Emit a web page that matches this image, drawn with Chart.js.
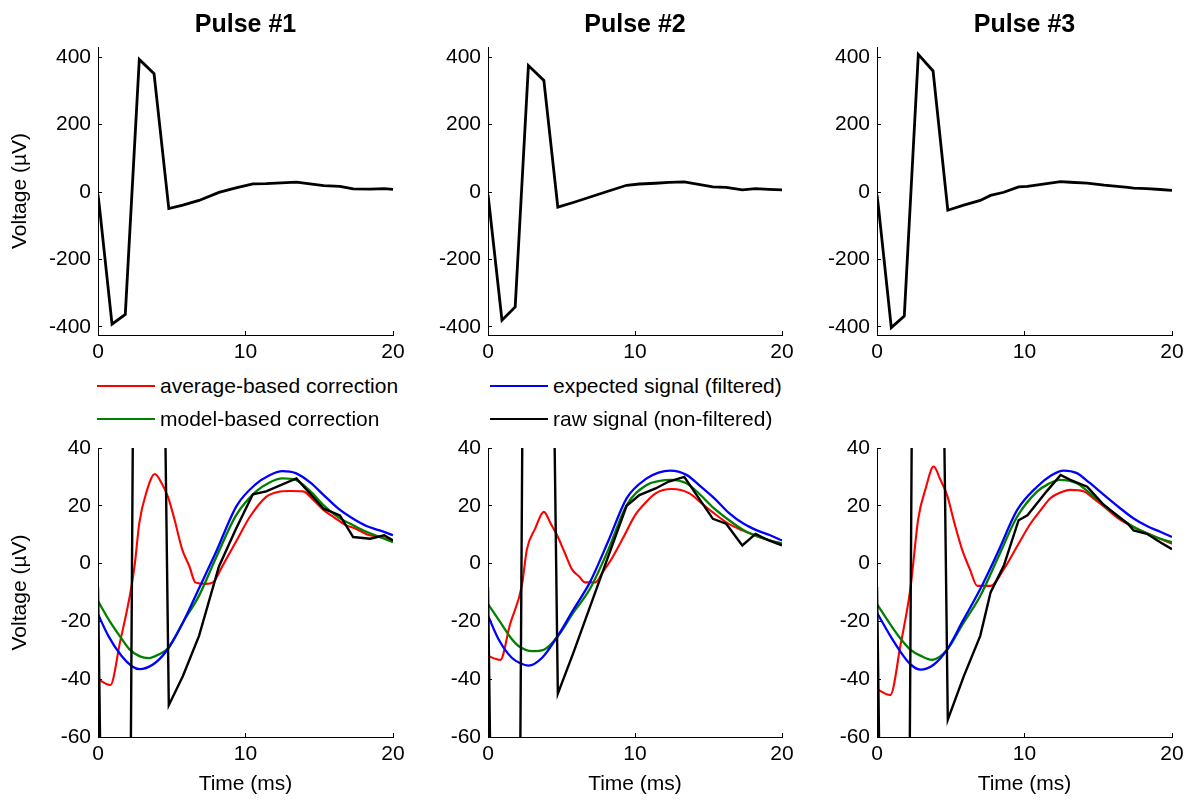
<!DOCTYPE html>
<html><head><meta charset="utf-8">
<script src="https://cdn.jsdelivr.net/npm/chart.js@4.4.1/dist/chart.umd.min.js"></script>
<style>
html,body{margin:0;padding:0;background:#fff;width:1191px;height:805px;overflow:hidden;}
body{position:relative;font-family:'Liberation Sans',Arial,Helvetica,sans-serif;color:#000;}
canvas{position:absolute;}
.ttl{position:absolute;font-weight:bold;font-size:25px;line-height:30px;text-align:center;white-space:nowrap;}
.leg{position:absolute;font-size:21px;line-height:24px;white-space:nowrap;display:flex;align-items:center;}
.leg .ln{display:inline-block;width:58px;height:2px;margin-right:5px;}
</style></head><body>
<script>
// ---------------- DATA ----------------
const pulseTitles = ['Pulse #1', 'Pulse #2', 'Pulse #3'];
const seriesNames = ['average-based correction', 'model-based correction', 'expected signal (filtered)', 'raw signal (non-filtered)'];
const xTicks = [0, 10, 20];
const topYTicks = [-400, -200, 0, 200, 400];
const bottomYTicks = [-60, -40, -20, 0, 20, 40];

// raw signal (non-filtered), [time ms, µV]
const raw1 = [[0,-8],[0.1,-45],[0.95,-392],[1.85,-363],[2.8,393],[3.8,351],[4.8,-49],[5.75,-39],[6.85,-25],[8.2,-1],[9.35,12],[10.5,24],[11.4,25],[13.45,29.5],[15.3,19],[16.4,16.7],[17.3,9.2],[18.45,8.6],[19.4,9.8],[20,8]];
const raw2 = [[0,-8],[0.1,-46],[0.95,-380],[1.85,-341],[2.75,375],[3.8,331],[4.75,-45],[5.8,-31],[6.9,-15.5],[8,0],[9.43,20],[10.3,23.7],[11.4,26],[12.3,28.4],[13.35,30],[15.3,15.5],[16.2,13.8],[17.3,6.3],[18.2,10.3],[19.1,8],[20,6.3]];
const raw3 = [[0,-8],[0.1,-45],[0.97,-402],[1.85,-368],[2.8,408],[3.8,359],[4.8,-54],[5.88,-39],[7,-25],[7.7,-10],[8.6,-0.7],[9.6,15],[10.2,16.7],[11.5,25],[12.45,30.7],[13.1,29],[14.25,26.6],[15.4,20.2],[17,13.8],[17.4,11.5],[18.3,10.3],[19.2,7.4],[20,5]];

// expected signal (filtered)
const exp1 = [[0,-17.5],[0.7,-25],[1.6,-32],[2.3,-35.5],[2.8,-36.5],[3.7,-35],[4.6,-30.5],[5.7,-21],[6.9,-8],[8,4],[9.4,20],[10.7,27.5],[11.6,30.5],[12.5,32],[13.4,31.3],[14.4,28],[15.3,23.7],[16.3,19],[17.3,15.5],[18.2,13],[19.1,11.5],[20,9.8]];
const exp2 = [[0,-18],[0.7,-26],[1.6,-32.5],[2.2,-34.5],[2.75,-35.3],[3.7,-32.5],[4.75,-25],[5.8,-16],[6.93,-6.5],[8.2,8],[9.43,22.6],[10.8,29.5],[11.6,31.5],[12.4,32.2],[13.5,30.7],[14.4,27],[15.4,22.6],[16.4,17.5],[17.4,13.8],[18.3,11.5],[19.2,9.8],[20,8]];
const exp3 = [[0,-17],[0.9,-25],[1.8,-32],[2.3,-35],[2.94,-36.7],[3.84,-35],[4.75,-29.8],[5.8,-20],[7,-8.8],[8.2,4],[9.5,18.5],[10.85,26.6],[11.8,30.5],[12.65,32.2],[13.55,31.3],[14.4,28],[15.4,23.7],[16.4,19.5],[17.4,15.6],[18.3,13],[19.2,11],[20,9.2]];

// model-based correction
const model1 = [[0,-13],[0.8,-20],[1.6,-26],[2.1,-29.5],[2.8,-32],[3.45,-32.7],[4.1,-31.5],[4.8,-29],[5.8,-20],[6.86,-11],[8,2],[9.36,16.7],[10.7,24.9],[11.6,28],[12.5,29.5],[13.4,29],[14.4,25],[15.3,20.2],[16.3,16],[17.3,13.3],[18.2,11],[19.1,9.2],[20,7.4]];
const model2 = [[0,-14],[0.8,-20],[1.6,-26],[2.1,-28.6],[3,-30.3],[3.8,-29.8],[4.77,-25],[5.8,-17],[6.93,-8.8],[8.2,5],[9.43,20.2],[10.8,27.2],[11.6,28.5],[12.4,29],[13.5,27.8],[14.4,24],[15.4,19],[16.4,15],[17.4,11.5],[18.3,9.5],[19.2,8],[20,6.9]];
const model3 = [[0,-14],[0.9,-21],[1.6,-26],[2.26,-29.8],[3,-32],[3.73,-33.3],[4.75,-29.8],[5.8,-21],[7,-11.2],[8.2,2],[9.5,16.2],[10.85,24.9],[11.6,27.5],[12.4,29],[13.55,27.8],[14.4,24.5],[15.4,20.2],[16.4,16],[17.4,12.7],[18.3,10.5],[19.2,8.6],[20,7.4]];

// average-based correction
const avg1 = [[0,-40],[0.84,-42],[1.5,-27],[2.2,-10],[2.5,0],[2.8,14],[3.3,25],[3.85,31],[4.3,28],[4.75,23],[5.2,15],[5.7,5],[6.2,-1],[6.6,-6.5],[7.3,-7],[7.8,-6.5],[8.45,-0.7],[9.4,8],[10.3,16.2],[11.4,23.1],[12.2,24.8],[13,25.1],[13.9,25],[14.6,22],[15.3,18.5],[16,16],[16.8,13.3],[17.5,12],[18.3,10],[19.1,9.2],[20,8]];
const avg2 = [[0,-32],[0.84,-33.3],[1.5,-21],[2.3,-7.7],[2.65,5],[3.2,12],[3.8,17.9],[4.25,14],[4.7,9.8],[5.2,4],[5.7,-1.9],[6.2,-4.5],[6.6,-6.5],[7.3,-6.5],[7.8,-3],[8.4,1.6],[9.2,9],[10,16.7],[10.7,21],[11.4,24.3],[12.5,25.8],[13.7,24.3],[14.5,21],[15.25,17.9],[16.3,14],[17.3,11.5],[18.3,9.5],[19.2,8],[20,6.9]];
const avg3 = [[0,-43.5],[0.9,-45.5],[1.6,-28],[2.26,-8.8],[2.8,15.6],[3.3,26],[3.84,33.6],[4.3,29],[4.75,23.7],[5.25,14],[5.76,5],[6.3,-2],[6.8,-7.7],[7.7,-7.7],[8.6,-1.9],[9.5,6],[10.4,13.8],[11.1,18.5],[11.75,22.6],[12.4,24.5],[13.1,25.5],[14,25],[14.7,22.5],[15.4,19.7],[16.4,15.5],[17.4,12.7],[18.3,10.5],[19.2,8.6],[20,6.9]];

const rawSeries = [raw1, raw2, raw3];
const expSeries = [exp1, exp2, exp3];
const modelSeries = [model1, model2, model3];
const avgSeries = [avg1, avg2, avg3];

// ---------------- LAYOUT / STYLE ----------------
const COLORS = ['#ff0000', '#008000', '#0000ff', '#000000'];
const FONT = "'Liberation Sans', Arial, Helvetica, sans-serif";
Chart.defaults.font.family = FONT;
Chart.defaults.font.size = 21;
Chart.defaults.color = '#000';

const cols = [
  {areaL: 98, areaR: 393, yW: 98},
  {areaL: 488, areaR: 782, yW: 60},
  {areaL: 877, areaR: 1172, yW: 60}
];
const rowsGeom = [
  {areaT: 47, areaB: 335, xH: 30, yMin: -424, yMax: 430, ticks: topYTicks},
  {areaT: 448, areaB: 737, xH: 68, yMin: -60, yMax: 40, ticks: bottomYTicks}
];
const PADT = 26, PADR = 22;

function toXY(arr) { return arr.map(p => ({x: p[0], y: p[1]})); }

function makeChart(ci, ri, datasets) {
  const c = cols[ci], r = rowsGeom[ri];
  const cv = document.createElement('canvas');
  const left = c.areaL - c.yW, top = r.areaT - PADT;
  const w = c.yW + (c.areaR - c.areaL) + PADR;
  const h = PADT + (r.areaB - r.areaT) + r.xH;
  cv.width = w; cv.height = h;
  cv.style.left = left + 'px'; cv.style.top = top + 'px';
  cv.style.width = w + 'px'; cv.style.height = h + 'px';
  document.body.appendChild(cv);
  const axisCommon = {
    grid: {drawOnChartArea: false, drawTicks: true, tickLength: -4, color: '#000', lineWidth: 1},
    border: {display: true, color: '#000', width: 1}
  };
  new Chart(cv, {
    type: 'line',
    data: {datasets},
    options: {
      responsive: false, animation: false, devicePixelRatio: 1,
      layout: {padding: {top: PADT, right: PADR, left: 0, bottom: 0}},
      plugins: {legend: {display: false}, tooltip: {enabled: false}, title: {display: false}},
      elements: {point: {radius: 0}},
      scales: {
        x: Object.assign({
          type: 'linear', min: 0, max: 20,
          afterBuildTicks: s => { s.ticks = xTicks.map(v => ({value: v})); },
          afterFit: s => { s.height = r.xH; },
          ticks: {padding: 9, color: '#000', maxRotation: 0, autoSkip: false, font: {size: 21}},
          title: {display: ri === 1, text: 'Time (ms)', color: '#000', font: {size: 21}, padding: {top: 0, bottom: 8}}
        }, axisCommon),
        y: Object.assign({
          type: 'linear', min: r.yMin, max: r.yMax,
          afterBuildTicks: s => { s.ticks = r.ticks.map(v => ({value: v})); },
          afterFit: s => { s.width = c.yW; },
          ticks: {padding: 11, color: '#000', autoSkip: false, font: {size: 21}},
          title: {display: ci === 0, text: 'Voltage (µV)', color: '#000', font: {size: 21}, padding: {top: 8, bottom: 0}}
        }, axisCommon)
      }
    }
  });
}

for (let i = 0; i < 3; i++) {
  // top row: raw pulse
  makeChart(i, 0, [
    {data: toXY(rawSeries[i]), borderColor: COLORS[3], borderWidth: 2.8, tension: 0, pointRadius: 0, clip: 0}
  ]);
  // bottom row: corrections
  makeChart(i, 1, [
    {data: toXY(rawSeries[i]), borderColor: COLORS[3], borderWidth: 2.4, tension: 0, pointRadius: 0, clip: 0},
    {data: toXY(expSeries[i]), borderColor: COLORS[2], borderWidth: 2.3, cubicInterpolationMode: 'monotone', pointRadius: 0, clip: 0},
    {data: toXY(modelSeries[i]), borderColor: COLORS[1], borderWidth: 2.3, cubicInterpolationMode: 'monotone', pointRadius: 0, clip: 0},
    {data: toXY(avgSeries[i]), borderColor: COLORS[0], borderWidth: 2.1, cubicInterpolationMode: 'monotone', pointRadius: 0, clip: 0}
  ]);
  // title
  const t = document.createElement('div');
  t.className = 'ttl';
  t.textContent = pulseTitles[i];
  t.style.left = cols[i].areaL + 'px';
  t.style.width = (cols[i].areaR - cols[i].areaL) + 'px';
  t.style.top = '8px';
  document.body.appendChild(t);
}

// legend
const legPos = [[97, 374], [97, 407], [490, 374], [490, 407]];
seriesNames.forEach((name, k) => {
  const d = document.createElement('div');
  d.className = 'leg';
  d.style.left = legPos[k][0] + 'px';
  d.style.top = legPos[k][1] + 'px';
  const ln = document.createElement('span');
  ln.className = 'ln';
  ln.style.background = COLORS[k];
  const tx = document.createElement('span');
  tx.textContent = name;
  d.appendChild(ln); d.appendChild(tx);
  document.body.appendChild(d);
});
</script>
</body></html>
